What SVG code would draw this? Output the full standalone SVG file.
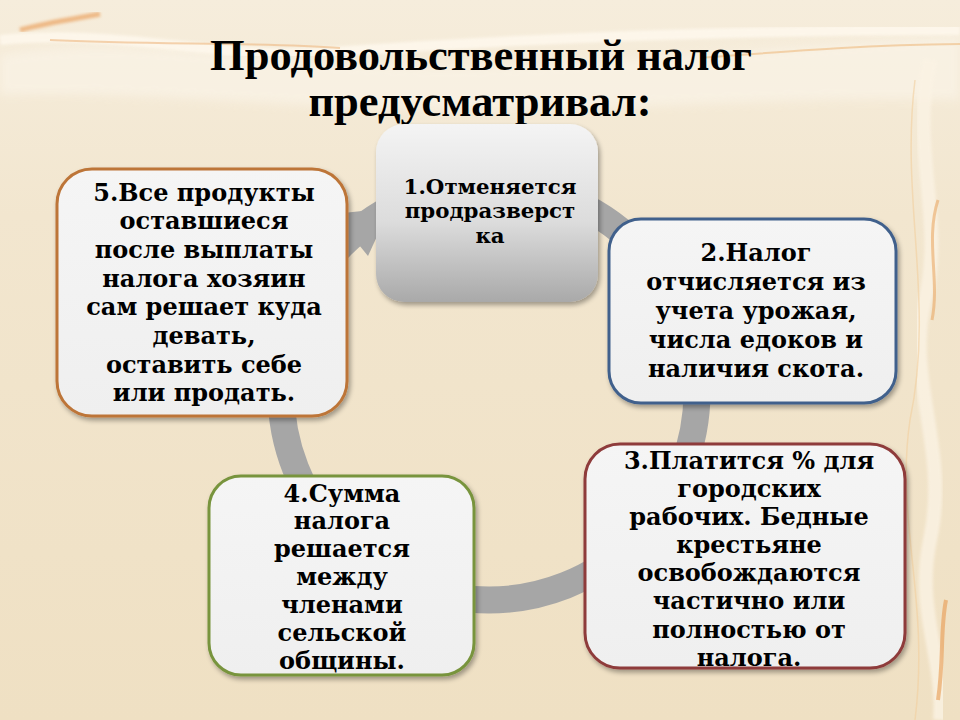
<svg xmlns="http://www.w3.org/2000/svg" width="960" height="720" viewBox="0 0 960 720">
<defs>
<linearGradient id="bg" x1="0" y1="0" x2="0" y2="1">
<stop offset="0" stop-color="#f6eddc"/>
<stop offset="0.3" stop-color="#f2e6cf"/>
<stop offset="1" stop-color="#efe0c3"/>
</linearGradient>
<linearGradient id="g1" x1="0" y1="0" x2="0" y2="1">
<stop offset="0" stop-color="#f4f4f4"/>
<stop offset="0.55" stop-color="#dcdcdc"/>
<stop offset="1" stop-color="#a9a9a9"/>
</linearGradient>
<linearGradient id="gbox" x1="0" y1="0" x2="0" y2="1">
<stop offset="0" stop-color="#f5f5f5"/>
<stop offset="1" stop-color="#efefef"/>
</linearGradient>
<filter id="sh" x="-10%" y="-10%" width="125%" height="125%">
<feGaussianBlur in="SourceAlpha" stdDeviation="2.5"/>
<feOffset dx="2" dy="3" result="b"/>
<feComponentTransfer><feFuncA type="linear" slope="0.35"/></feComponentTransfer>
<feMerge><feMergeNode/><feMergeNode in="SourceGraphic"/></feMerge>
</filter>
<filter id="blur6"><feGaussianBlur stdDeviation="5"/></filter>
<filter id="blur2"><feGaussianBlur stdDeviation="1.5"/></filter>
</defs>
<style>
.box{fill:url(#gbox);stroke-width:3;filter:url(#sh)}
.t{font-family:"DejaVu Serif","Liberation Serif",serif;font-weight:bold;font-size:24px;fill:#000;text-anchor:middle}
.t1{font-size:21.3px}
.title{font-family:"Liberation Serif","Times New Roman",serif;font-weight:bold;font-size:44.5px;fill:#000;text-anchor:middle}
.ring{fill:none;stroke:#a6a6a6;stroke-width:27}
</style>

<!-- background -->
<rect x="0" y="0" width="960" height="720" fill="url(#bg)"/>
<g id="decor">
<path d="M0,55 C150,30 300,75 520,65 C700,58 850,40 960,38 L960,100 C800,95 650,110 480,110 C300,110 150,90 0,95 Z" fill="#fbf5ea" opacity="0.6" filter="url(#blur6)"/>
<path d="M0,40 C120,28 220,60 330,52 C500,40 700,30 960,30" fill="none" stroke="#fff9ef" stroke-width="10" opacity="0.8" filter="url(#blur2)"/>
<path d="M20,30 C50,22 80,18 100,14" fill="none" stroke="#eaa260" stroke-width="5" opacity="0.7" filter="url(#blur2)"/>
<path d="M50,40 C150,45 260,42 340,48" fill="none" stroke="#f0c090" stroke-width="2" opacity="0.7"/>
<path d="M700,58 C780,52 860,45 960,44" fill="none" stroke="#f0c898" stroke-width="2" opacity="0.8"/>
<path d="M930,60 C910,150 945,220 925,300 C905,380 950,450 930,540 C915,610 945,660 940,720" fill="none" stroke="#fbf3e4" stroke-width="14" opacity="0.8" filter="url(#blur2)"/>
<path d="M938,200 C925,240 940,280 932,320" fill="none" stroke="#eaa866" stroke-width="3" opacity="0.6"/>
<path d="M946,600 C940,630 944,660 938,700" fill="none" stroke="#e89a50" stroke-width="4" opacity="0.6"/>
<path d="M915,80 C900,200 935,300 910,420 C895,520 930,600 915,720" fill="none" stroke="#f2cf9e" stroke-width="1.5" opacity="0.6"/>
</g>

<!-- title -->
<g id="title">
<text class="title" x="481" y="70">Продовольственный налог</text>
<text class="title" x="480" y="116">предусматривал:</text>
</g>

<!-- connectors -->
<g id="connectors">
<circle class="ring" cx="489" cy="392" r="208"/>
<polygon points="334,214 368,256 390,208" fill="#a6a6a6"/>
</g>

<!-- node 5 -->
<g id="node5">
<rect class="box" x="57" y="169" width="290" height="247" rx="35" ry="35" stroke="#bd7538"/>
<text class="t" x="204" y="201">5.Все продукты</text>
<text class="t" x="204" y="229">оставшиеся</text>
<text class="t" x="204" y="258">после выплаты</text>
<text class="t" x="204" y="287">налога хозяин</text>
<text class="t" x="204" y="315">сам решает куда</text>
<text class="t" x="204" y="344">девать,</text>
<text class="t" x="204" y="373">оставить себе</text>
<text class="t" x="204" y="401">или продать.</text>
</g>

<!-- node 1 -->
<g id="node1">
<rect x="376" y="124" width="222" height="178" rx="28" ry="28" fill="url(#g1)" filter="url(#sh)"/>
<text class="t t1" x="490" y="194">1.Отменяется</text>
<text class="t t1" x="490" y="218">продразверст</text>
<text class="t t1" x="490" y="243">ка</text>
</g>

<!-- node 2 -->
<g id="node2">
<rect class="box" x="609" y="219" width="287" height="184" rx="32" ry="32" stroke="#41618c"/>
<text class="t" x="756" y="261">2.Налог</text>
<text class="t" x="756" y="290">отчисляется из</text>
<text class="t" x="756" y="319">учета урожая,</text>
<text class="t" x="756" y="348">числа едоков и</text>
<text class="t" x="756" y="377">наличия скота.</text>
</g>

<!-- node 3 -->
<g id="node3">
<rect class="box" x="585" y="444" width="320" height="224" rx="35" ry="35" stroke="#8e3b3a"/>
<text class="t" x="749" y="469">3.Платится % для</text>
<text class="t" x="749" y="497">городских</text>
<text class="t" x="749" y="525">рабочих. Бедные</text>
<text class="t" x="749" y="553">крестьяне</text>
<text class="t" x="749" y="581">освобождаются</text>
<text class="t" x="749" y="609">частично или</text>
<text class="t" x="749" y="638">полностью от</text>
<text class="t" x="749" y="666">налога.</text>
</g>

<!-- node 4 -->
<g id="node4">
<rect class="box" x="209" y="476" width="265" height="199" rx="32" ry="32" stroke="#78943d"/>
<text class="t" x="342" y="502">4.Сумма</text>
<text class="t" x="342" y="529">налога</text>
<text class="t" x="342" y="557">решается</text>
<text class="t" x="342" y="585">между</text>
<text class="t" x="342" y="613">членами</text>
<text class="t" x="342" y="641">сельской</text>
<text class="t" x="342" y="669">общины.</text>
</g>
</svg>
